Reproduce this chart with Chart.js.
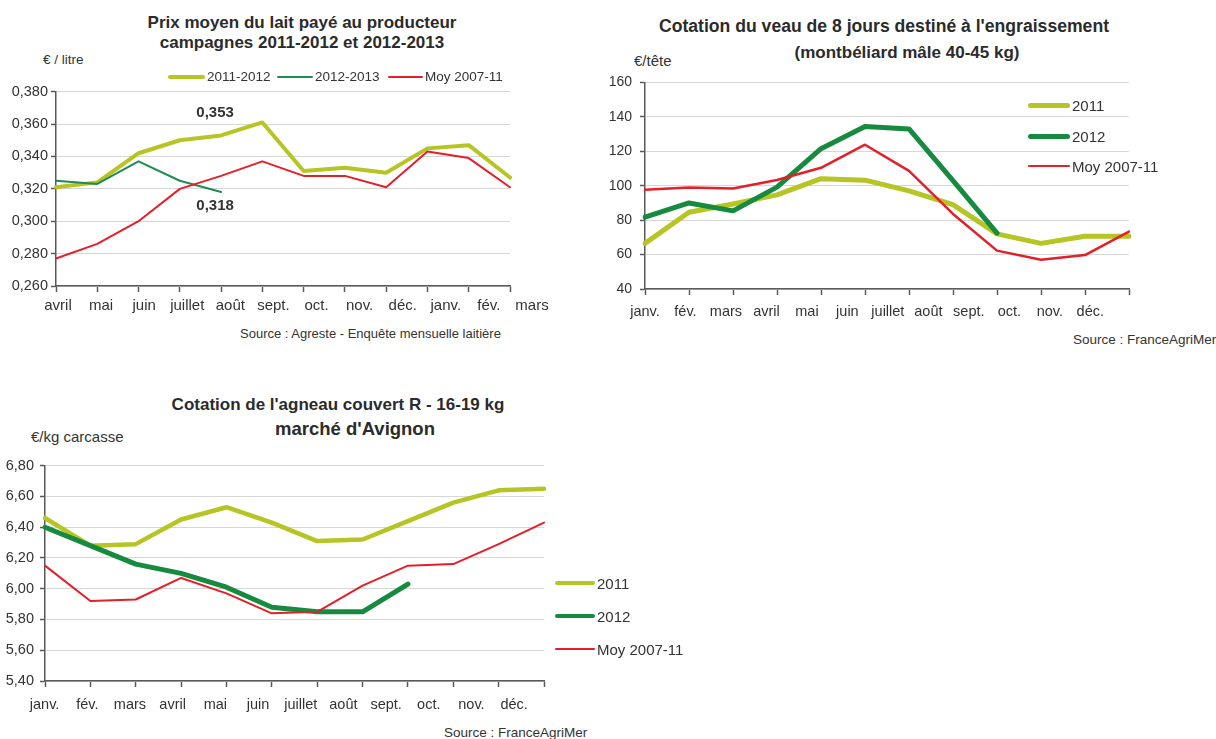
<!DOCTYPE html>
<html lang="fr">
<head>
<meta charset="utf-8">
<title>Prix du lait, cotations veau et agneau</title>
<script src="https://cdn.jsdelivr.net/npm/chart.js@4.4.1/dist/chart.umd.min.js"></script>
<style>
  body { margin: 0; background: #fff; font-family: "Liberation Sans", Arial, sans-serif; color: #333; }
  #page { position: relative; width: 1216px; height: 739px; overflow: hidden; }
  canvas { position: absolute; }
  .txt { position: absolute; white-space: nowrap; line-height: 1; }
  .titre { font-weight: bold; font-size: 17px; text-align: center; width: 500px; color: #2b2b2b; }
  .unite { font-size: 15px; }
  .source { font-size: 13.5px; }
  .leg { position: absolute; display: flex; align-items: center; white-space: nowrap; line-height: 1; }
  .leg i { display: inline-block; margin-right: 2px; }
</style>
</head>
<body>
<div id="page">
  <!-- lait -->
  <div class="txt titre" style="left:52px; top:14px;">Prix moyen du lait payé au producteur</div>
  <div class="txt titre" style="left:52px; top:34px;">campagnes 2011-2012 et 2012-2013</div>
  <div class="txt unite" style="left:43px; top:53px; font-size:13.5px;">€ / litre</div>
  <div class="txt source" style="left:240px; top:327px; font-size:13px;">Source : Agreste - Enquête mensuelle laitière</div>
  <canvas id="laitChart" width="560" height="250" style="left:0; top:80px;"></canvas>

  <!-- veau -->
  <div class="txt titre" style="left:634px; top:18px; font-size:17.6px;">Cotation du veau de 8 jours destiné à l'engraissement</div>
  <div class="txt titre" style="left:657px; top:44px;">(montbéliard mâle 40-45 kg)</div>
  <div class="txt unite" style="left:634px; top:53px;">€/tête</div>
  <div class="txt source" style="left:1073px; top:333px;">Source : FranceAgriMer</div>
  <canvas id="veauChart" width="626" height="274" style="left:590px; top:66px;"></canvas>

  <!-- agneau -->
  <div class="txt titre" style="left:88px; top:396px;">Cotation de l'agneau couvert R - 16-19 kg</div>
  <div class="txt titre" style="left:105px; top:420px; font-size:18.5px;">marché d'Avignon</div>
  <div class="txt unite" style="left:31px; top:429px;">€/kg carcasse</div>
  <div class="txt source" style="left:444px; top:726px;">Source : FranceAgriMer</div>
  <canvas id="agneauChart" width="560" height="279" style="left:0; top:451px;"></canvas>
</div>

<script>
// Prix du lait (campagne avril -> mars), €/litre
const laitMois = ['avril', 'mai', 'juin', 'juillet', 'août', 'sept.', 'oct.', 'nov.', 'déc.', 'janv.', 'fév.', 'mars'];
const laitSeries = ['2011-2012', '2012-2013', 'Moy 2007-11'];
const lait1112 = [0.321, 0.324, 0.342, 0.350, 0.353, 0.361, 0.331, 0.333, 0.330, 0.345, 0.347, 0.327];
const lait1213 = [0.325, 0.323, 0.337, 0.325, 0.318];
const laitMoy = [0.277, 0.286, 0.300, 0.320, 0.328, 0.337, 0.328, 0.328, 0.321, 0.343, 0.339, 0.321];

// Veau de 8 jours, €/tête
const mois = ['janv.', 'fév.', 'mars', 'avril', 'mai', 'juin', 'juillet', 'août', 'sept.', 'oct.', 'nov.', 'déc.'];
const anSeries = ['2011', '2012', 'Moy 2007-11'];
const veau2011 = [66.5, 84.6, 89.4, 94.7, 104.1, 103.2, 97.0, 89.0, 72.0, 66.5, 70.6, 70.6];
const veau2012 = [81.7, 90.0, 85.4, 99.2, 121.5, 134.4, 133.0, 103.0, 72.5];
const veauMoy = [97.6, 98.9, 98.4, 103.3, 110.4, 123.8, 108.6, 83.6, 62.3, 57.0, 59.7, 73.3];

// Agneau couvert R 16-19 kg, €/kg carcasse
const agneau2011 = [6.46, 6.28, 6.29, 6.45, 6.53, 6.43, 6.31, 6.32, 6.44, 6.56, 6.64, 6.65];
const agneau2012 = [6.40, 6.28, 6.16, 6.10, 6.01, 5.88, 5.85, 5.85, 6.03];
const agneauMoy = [6.15, 5.92, 5.93, 6.07, 5.97, 5.84, 5.85, 6.02, 6.15, 6.16, 6.29, 6.43];

const JAUNE = '#b6c424';
const VERT = '#168a3f';
const VERT_LAIT = '#1f8b55';
const ROUGE = '#e31f2a';
const GRILLE = '#d6d6d6';
const AXE = '#595959';
const TEXTE = '#333';

Chart.defaults.font.family = '"Liberation Sans", Arial, sans-serif';
Chart.defaults.color = TEXTE;

// month labels under the x axis, spaced a little differently from the tick marks
const moisPlugin = {
    id: 'moisAxe',
    afterDraw(chart, args, opts) {
        const x = chart.scales.x;
        const ctx = chart.ctx;
        const pas = x.getPixelForValue(1) - x.getPixelForValue(0);
        const x0 = x.getPixelForValue(0) + (opts.decalage || 0);
        ctx.save();
        ctx.font = opts.taille + 'px "Liberation Sans", Arial, sans-serif';
        ctx.fillStyle = TEXTE;
        ctx.textAlign = 'center';
        ctx.textBaseline = 'middle';
        chart.data.labels.forEach((lab, i) => {
            ctx.fillText(lab, x0 + i * pas * opts.ecart, chart.chartArea.bottom + opts.dy);
        });
        ctx.restore();
    }
};

// bold value next to a given point
const valeursPlugin = {
    id: 'valeurs',
    afterDatasetsDraw(chart, args, opts) {
        if (!opts.items) return;
        const ctx = chart.ctx;
        ctx.save();
        ctx.font = 'bold 15px "Liberation Sans", Arial, sans-serif';
        ctx.fillStyle = TEXTE;
        ctx.textAlign = 'center';
        ctx.textBaseline = 'middle';
        opts.items.forEach(it => {
            const pt = chart.getDatasetMeta(it.dataset).data[it.index];
            const v = chart.data.datasets[it.dataset].data[it.index];
            ctx.fillText(v.toFixed(3).replace('.', ','), pt.x + it.dx, pt.y + it.dy);
        });
        ctx.restore();
    }
};

function serie(label, data, color, width, order) {
    return {
        label: label,
        data: data,
        borderColor: color,
        backgroundColor: color,
        borderWidth: width,
        order: order,
        pointRadius: 0,
        tension: 0,
        borderCapStyle: 'round',
        borderJoinStyle: 'round'
    };
}

function makeChart(id, cfg) {
    const ctx = document.getElementById(id).getContext('2d');
    return new Chart(ctx, {
        type: 'line',
        data: { labels: cfg.labels, datasets: cfg.datasets },
        options: {
            responsive: false,
            animation: false,
            devicePixelRatio: 1,
            layout: { padding: cfg.padding },
            plugins: {
                legend: { display: false },
                tooltip: { enabled: false },
                moisAxe: cfg.mois,
                valeurs: cfg.valeurs || {}
            },
            scales: {
                x: {
                    ticks: { display: false },
                    grid: { drawOnChartArea: false, tickLength: 6, tickColor: AXE, tickWidth: 1.5 },
                    border: { color: AXE, width: 1.5 },
                    afterFit: s => { s.height = cfg.xHeight; }
                },
                y: {
                    min: cfg.yMin,
                    max: cfg.yMax,
                    ticks: {
                        stepSize: cfg.yStep,
                        padding: cfg.yPad,
                        color: TEXTE,
                        font: { size: cfg.yFont },
                        callback: cfg.yFormat
                    },
                    grid: { color: GRILLE, lineWidth: 1, tickLength: 5, tickColor: AXE, tickWidth: 1.5 },
                    border: { color: AXE, width: 1.5 },
                    afterFit: s => { s.width = cfg.yWidth; }
                }
            }
        },
        plugins: [moisPlugin, valeursPlugin]
    });
}

function legende(items, left, rows, size) {
    const page = document.getElementById('page');
    items.forEach((it, i) => {
        const div = document.createElement('div');
        div.className = 'leg';
        div.style.left = (it.left !== undefined ? it.left : left) + 'px';
        div.style.top = (rows[i] - size / 2) + 'px';
        div.style.fontSize = size + 'px';
        div.style.height = size + 'px';
        const trait = document.createElement('i');
        trait.style.width = it.w + 'px';
        trait.style.height = it.h + 'px';
        trait.style.background = it.color;
        trait.style.borderRadius = (it.h / 2) + 'px';
        div.appendChild(trait);
        div.appendChild(document.createTextNode(it.label));
        page.appendChild(div);
    });
}

makeChart('laitChart', {
    labels: laitMois,
    datasets: [
        serie(laitSeries[0], lait1112, JAUNE, 4, 3),
        serie(laitSeries[1], lait1213, VERT_LAIT, 2, 2),
        serie(laitSeries[2], laitMoy, ROUGE, 2, 1)
    ],
    padding: { top: 11, right: 50, left: 0, bottom: 0 },
    yWidth: 56, xHeight: 44,
    yMin: 0.26, yMax: 0.38, yStep: 0.02, yPad: 3, yFont: 14.5,
    yFormat: v => v.toFixed(3).replace('.', ','),
    mois: { taille: 15, ecart: 1.044, decalage: 2, dy: 20 },
    valeurs: { items: [
        { dataset: 0, index: 4, dx: -6, dy: -23 },
        { dataset: 1, index: 4, dx: -6, dy: 14 }
    ] }
});

makeChart('veauChart', {
    labels: mois,
    datasets: [
        serie(anSeries[0], veau2011, JAUNE, 5, 3),
        serie(anSeries[1], veau2012, VERT, 5, 2),
        serie(anSeries[2], veauMoy, ROUGE, 2.5, 1)
    ],
    padding: { top: 12, right: 87, left: 0, bottom: 0 },
    yWidth: 55, xHeight: 51,
    yMin: 40, yMax: 160, yStep: 20, yPad: 8, yFont: 14,
    yFormat: v => String(v),
    mois: { taille: 14.5, ecart: 0.92, decalage: 0, dy: 23 }
});

makeChart('agneauChart', {
    labels: mois,
    datasets: [
        serie(anSeries[0], agneau2011, JAUNE, 4.5, 3),
        serie(anSeries[1], agneau2012, VERT, 5, 2),
        serie(anSeries[2], agneauMoy, ROUGE, 2, 1)
    ],
    padding: { top: 10, right: 16, left: 0, bottom: 0 },
    yWidth: 45, xHeight: 49,
    yMin: 5.4, yMax: 6.8, yStep: 0.2, yPad: 6, yFont: 14.5,
    yFormat: v => v.toFixed(2).replace('.', ','),
    mois: { taille: 14.5, ecart: 0.941, decalage: -0.4, dy: 24 }
});

legende([
    { label: laitSeries[0], color: JAUNE, w: 37, h: 4, left: 168 },
    { label: laitSeries[1], color: VERT_LAIT, w: 36, h: 2.5, left: 277 },
    { label: laitSeries[2], color: ROUGE, w: 35, h: 2.5, left: 388 }
], 0, [77, 77, 77], 13.5);

legende([
    { label: anSeries[0], color: JAUNE, w: 42, h: 5 },
    { label: anSeries[1], color: VERT, w: 42, h: 5 },
    { label: anSeries[2], color: ROUGE, w: 42, h: 2.5 }
], 1028, [105, 136, 166], 15);

legende([
    { label: anSeries[0], color: JAUNE, w: 40, h: 4.5 },
    { label: anSeries[1], color: VERT, w: 40, h: 4.5 },
    { label: anSeries[2], color: ROUGE, w: 40, h: 2.5 }
], 555, [583, 616, 649], 15);
</script>
</body>
</html>
